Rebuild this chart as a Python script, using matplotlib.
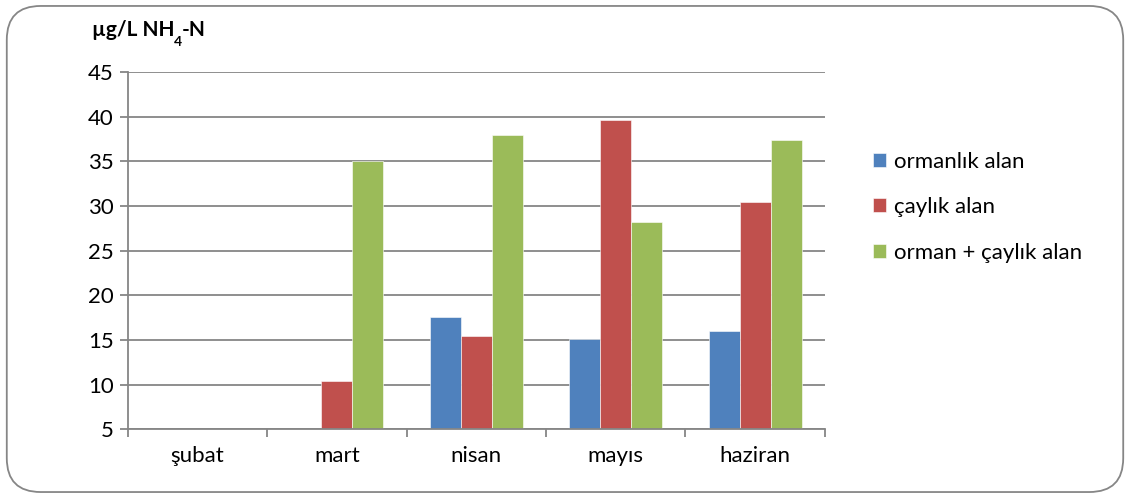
import matplotlib.pyplot as plt
import numpy as np
from matplotlib.patches import FancyBboxPatch

plt.rcParams['font.family'] = ['Lato', 'DejaVu Sans']
plt.rcParams['mathtext.fontset'] = 'custom'
plt.rcParams['mathtext.rm'] = 'Lato'
plt.rcParams['mathtext.bf'] = 'Lato:bold'

months = ['şubat', 'mart', 'nisan', 'mayıs', 'haziran']
series = ['ormanlık alan', 'çaylık alan', 'orman + çaylık alan']
ormanlik = [np.nan, np.nan, 17.6, 15.1, 16.0]
caylik = [np.nan, 10.4, 15.4, 39.6, 30.5]
orman_caylik = [np.nan, 35.1, 37.9, 28.2, 37.4]
colors = ['#4f81bd', '#c0504d', '#9bbb59']

fig = plt.figure(figsize=(11.3, 4.97), dpi=100)
ax = fig.add_axes([0.113, 0.136, 0.617, 0.719])

x = np.arange(len(months))
w = 0.222
for i, (vals, c, lab) in enumerate(zip([ormanlik, caylik, orman_caylik], colors, series)):
    ax.bar(x + (i - 1) * w, vals, w, bottom=0, color=c, label=lab, zorder=3,
           edgecolor='white', linewidth=0.4)

ax.set_ylim(5, 45)
ax.set_xlim(-0.5, len(months) - 0.5)
ax.set_yticks(range(5, 46, 5))
ax.yaxis.grid(True, color='#868686', linewidth=1.3, zorder=0)
ax.set_xticks(x)
ax.set_xticklabels(months, fontsize=16)
ax.set_xticks(np.arange(-0.5, len(months)), minor=True)
ax.tick_params(axis='x', which='major', length=0, pad=12)
ax.tick_params(axis='x', which='minor', length=6, width=1.3, color='#868686')
ax.tick_params(axis='y', length=6, width=1.3, color='#868686', labelsize=16, pad=4)
for s in ['top', 'right']:
    ax.spines[s].set_visible(False)
for s in ['left', 'bottom']:
    ax.spines[s].set_color('#868686')
    ax.spines[s].set_linewidth(1.3)
    ax.spines[s].set_zorder(4)

# unit label with lowered subscript
t1 = fig.text(0.081, 0.94, 'µg/L NH', fontsize=15, fontweight='bold', va='center', ha='left')
fig.canvas.draw()
bb = t1.get_window_extent()
x1 = bb.x1 / fig.bbox.width
t2 = fig.text(x1, 0.915, '4', fontsize=10, fontweight='bold', va='center', ha='left')
bb2 = t2.get_window_extent(renderer=fig.canvas.get_renderer())
fig.text(bb2.x1 / fig.bbox.width, 0.94, '-N', fontsize=15, fontweight='bold',
         va='center', ha='left')

ax.legend(loc='center left', bbox_to_anchor=(1.04, 0.622), frameon=False, fontsize=16,
          handlelength=0.6, handleheight=0.6, handletextpad=0.35, labelspacing=1.15)

border = FancyBboxPatch((0.006, 0.01), 0.988, 0.978, boxstyle='round,pad=0,rounding_size=0.03',
                        transform=fig.transFigure, fill=False, edgecolor='#868686',
                        linewidth=1.3, mutation_aspect=2.27)
fig.patches.append(border)

fig.savefig('out.png', dpi=100)
